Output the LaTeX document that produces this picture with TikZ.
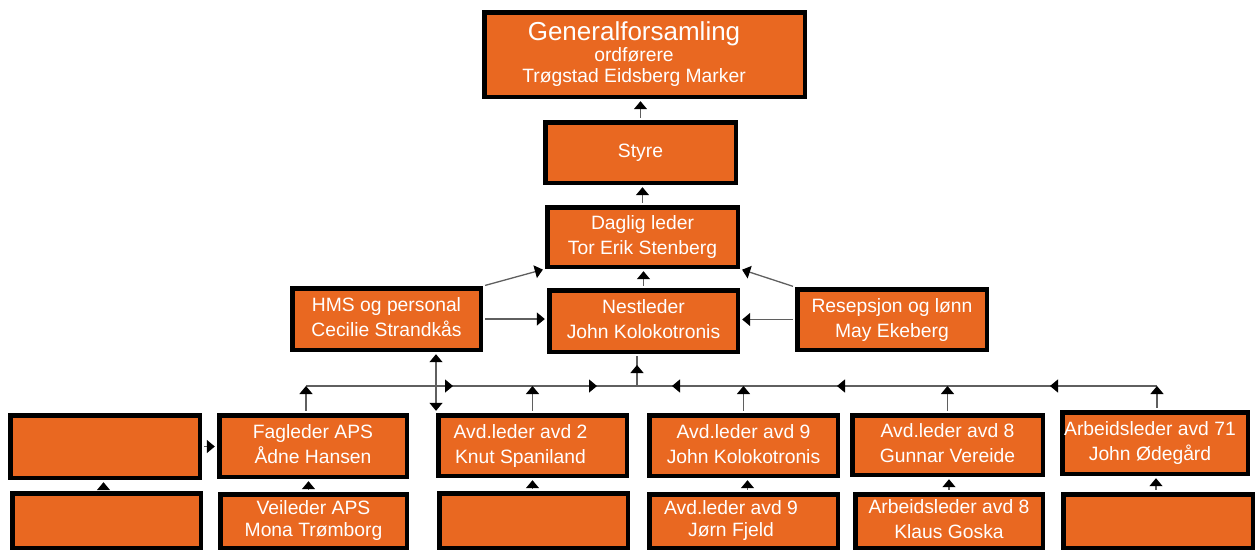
\documentclass[tikz,border=0pt]{standalone}
\usepackage{fontspec}
\setmainfont{Liberation Sans}
\usetikzlibrary{arrows.meta,decorations.markings}
\definecolor{boxor}{RGB}{233,104,33}
\definecolor{linegray}{RGB}{95,95,95}
\tikzset{
  box/.style={draw=black, line width=4.5pt, fill=boxor, text=white, align=center,
    inner sep=0pt, font=\fontsize{19.3}{25}\selectfont},
  conn/.style={draw=linegray, line width=1.3pt, shorten <=2.2pt},
  tip/.style={-{Triangle[width=13pt,length=8pt,color=black]}, shorten >=2.2pt},
  tipbus/.style={-{Triangle[width=13pt,length=8pt,color=black]}},
  dbl/.style={{Triangle[width=13pt,length=8pt,color=black]}-{Triangle[width=13pt,length=8pt,color=black]}, shorten >=2.2pt},
  busmarks/.style={postaction={decorate}, decoration={markings,
    mark=at position 147pt with {\arrow{Triangle[width=13pt,length=8pt,color=black]}},
    mark=at position 291pt with {\arrow{Triangle[width=13pt,length=8pt,color=black]}},
    mark=at position 366pt with {\arrowreversed{Triangle[width=13pt,length=8pt,color=black]}},
    mark=at position 531pt with {\arrowreversed{Triangle[width=13pt,length=8pt,color=black]}},
    mark=at position 744pt with {\arrowreversed{Triangle[width=13pt,length=8pt,color=black]}}}},
  upmark/.style={postaction={decorate}, decoration={markings,
    mark=at position 21pt with {\arrow{Triangle[width=13pt,length=8pt,color=black]}}}}
}
\begin{document}
\begin{tikzpicture}[x=1pt,y=-1pt]
\useasboundingbox (0,0) rectangle (1260,550);
% top
\node[box, minimum width=320.5pt, minimum height=84.5pt, font=\fontsize{19.3}{21}\selectfont] (gen) at (644.5,54.5)
  {{\fontsize{26}{26}\selectfont\hspace*{-21pt}Generalforsamling}\\\hspace*{-21pt}ordførere\\\hspace*{-21pt}Trøgstad Eidsberg Marker};
\node[box, minimum width=190.5pt, minimum height=60.5pt] (styre) at (640.5,152.5) {\strut Styre};
\node[box, minimum width=190.5pt, minimum height=59.5pt] (daglig) at (642.5,237) {\strut Daglig leder\\\strut Tor Erik Stenberg};
% middle
\node[box, minimum width=188.5pt, minimum height=61.5pt] (hms) at (386.5,319) {\strut HMS og personal\\\strut Cecilie Strandkås};
\node[box, minimum width=188.5pt, minimum height=61.5pt] (nest) at (643.5,321) {\strut Nestleder\\\strut John Kolokotronis};
\node[box, minimum width=189.5pt, minimum height=60.5pt] (resep) at (892,319.5) {\strut Resepsjon og lønn\\\strut May Ekeberg};
% first row
\node[box, minimum width=189.5pt, minimum height=62.5pt] (e1) at (105,446.5) {};
\node[box, minimum width=187.5pt, minimum height=61.5pt] (fag) at (313,446) {\strut Fagleder APS\\\strut Ådne Hansen};
\node[box, minimum width=188.5pt, minimum height=60.5pt] (avd2) at (532.5,445.5) {\strut\hspace*{-24pt}Avd.leder avd 2\\\strut\hspace*{-24pt}Knut Spaniland};
\node[box, minimum width=188.5pt, minimum height=60.5pt] (avd9) at (743.5,445.5) {\strut Avd.leder avd 9\\\strut John Kolokotronis};
\node[box, minimum width=190.5pt, minimum height=59.5pt] (avd8) at (947.5,445) {\strut Avd.leder avd 8\\\strut Gunnar Vereide};
\node[box, minimum width=185.5pt, minimum height=61.5pt] (arb71) at (1155,443) {\strut\hspace*{-10pt}Arbeidsleder avd 71\\\strut\hspace*{-10pt}John Ødegård};
% bottom row
\node[box, minimum width=188.5pt, minimum height=54.5pt] (e2) at (106.5,520.5) {};
\node[box, minimum width=186.5pt, minimum height=53.5pt, font=\fontsize{19.3}{22}\selectfont] (veil) at (313.5,521) {\strut Veileder APS\\\strut Mona Trømborg};
\node[box, minimum width=188.5pt, minimum height=54.5pt] (e3) at (533.5,520.5) {};
\node[box, minimum width=188.5pt, minimum height=53.5pt, font=\fontsize{19.3}{22}\selectfont] (fjeld) at (743.5,521) {\strut\hspace*{-25pt}Avd.leder avd 9\\\strut\hspace*{-25pt}Jørn Fjeld};
\node[box, minimum width=187.5pt, minimum height=53.5pt] (goska) at (949,521) {\strut Arbeidsleder avd 8\\\strut Klaus Goska};
\node[box, minimum width=189.5pt, minimum height=53.5pt] (e4) at (1158,521) {};
% bus coordinates
\coordinate (busW) at (306,386);
\coordinate (busE) at (1157,386);
\coordinate (busC) at (637,386);
% connectors upper part
\draw[conn, tip] (styre.north) -- (styre.north |- gen.south);
\draw[conn, tip] (daglig.north) -- (daglig.north |- styre.south);
\draw[conn, tip] (nest.north) -- (nest.north |- daglig.south);
\draw[conn, tip] (hms.north east) -- (daglig.south west);
\draw[conn, tip] (resep.north west) -- (daglig.south east);
\draw[conn, tip] (hms.east) -- (hms.east -| nest.west);
\draw[conn, tip] (resep.west) -- (resep.west -| nest.east);
% bus
\draw[conn, shorten <=0pt, busmarks] (busW) -- (busE);
\draw[conn, shorten <=0pt, shorten >=2.2pt, upmark] (busC) -- (busC |- nest.south);
\draw[conn, tipbus] (fag.north -| busW) -- (busW);
\draw[conn, tipbus] (avd2.north) -- (avd2.north |- busW);
\draw[conn, tipbus] (avd9.north) -- (avd9.north |- busW);
\draw[conn, tipbus] (avd8.north) -- (avd8.north |- busW);
\draw[conn, tipbus] (arb71.north -| busE) -- (busE);
\draw[conn, dbl] (avd2.north west |- hms.south) -- (avd2.north west);
% lower links
\draw[conn, tip] (e1.east) -- (e1.east -| fag.west);
\draw[conn, tip] ([xshift=-3pt]e2.north) -- ([xshift=-3pt]e2.north |- e1.south);
\draw[conn, tip] ([xshift=-5pt]veil.north) -- ([xshift=-5pt]veil.north |- fag.south);
\draw[conn, tip] ([xshift=-1pt]e3.north) -- ([xshift=-1pt]e3.north |- avd2.south);
\draw[conn, tip] ([xshift=4pt]fjeld.north) -- ([xshift=4pt]fjeld.north |- avd9.south);
\draw[conn, tip] (goska.north) -- (goska.north |- avd8.south);
\draw[conn, tip] ([xshift=-2pt]e4.north) -- ([xshift=-2pt]e4.north |- arb71.south);
\end{tikzpicture}
\end{document}
